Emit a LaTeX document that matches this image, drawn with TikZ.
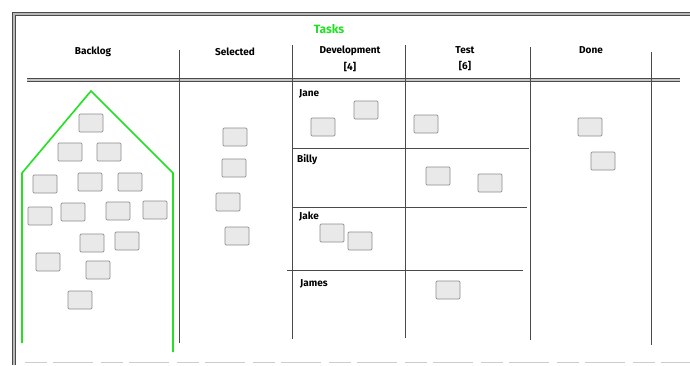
\documentclass[tikz,border=0pt]{standalone}
\usepackage{fontspec}
\setmainfont{Fira Sans}
\usetikzlibrary{calc}
\definecolor{pencil}{HTML}{4A4A4A}
\definecolor{cardfill}{HTML}{E9E9E9}
\definecolor{cardline}{HTML}{8C8C8C}
\definecolor{taskgreen}{HTML}{22E022}
\tikzset{
  card/.style={draw=cardline, fill=cardfill, line width=0.7pt, rounded corners=1.2pt,
    minimum width=24pt, minimum height=18pt, inner sep=0pt},
  head/.style={font=\fontsize{10}{11}\selectfont\bfseries, text=black, align=center, inner sep=0pt},
  lane/.style={font=\fontsize{10}{11}\selectfont\bfseries, text=black, anchor=west, inner sep=0pt},
  divider/.style={draw=pencil, line width=0.8pt},
  frameline/.style={draw=pencil, double=gray!55, double distance=2.6pt, line width=1.1pt},
  sepline/.style={draw=pencil, double=gray!45, double distance=1.4pt, line width=0.9pt},
  house/.style={draw=taskgreen, line width=1.6pt, line join=miter}
}
\begin{document}
\begin{tikzpicture}[x=1pt,y=-1pt]
\useasboundingbox (0,0) rectangle (690,365);
\fill[white] (0,0) rectangle (690,365);
% frame
\draw[frameline] (14,365) -- (14,14) -- (690,14);
\draw[draw=gray!40, line width=0.8pt, dash pattern=on 22pt off 6pt on 40pt off 8pt] (25,362) -- (690,362);
% header separator
\draw[sepline] (27,80) -- (680,80);
% column dividers
\draw[divider] (179,50) -- (179,343);
\draw[divider] (292,45) -- (292,339);
\draw[divider] (405,45) -- (405,338);
\draw[divider] (530,47) -- (530,340);
\draw[divider] (651,52) -- (651,345);
% swimlanes
\draw[divider, line width=0.7pt] (292,148) -- (529,148);
\draw[divider, line width=0.7pt] (292,207) -- (527,207);
\draw[divider, line width=0.7pt] (287,270) -- (523,270);
% title and headers
\node[font=\fontsize{12}{13}\selectfont\bfseries, text=taskgreen, inner sep=0pt] (title) at (329,29) {Tasks};
\node[head] (hBacklog) at (93,52) {Backlog};
\node[head] (hSelected) at (235,52) {Selected};
\node[head] (hDev) at (350,51) {Development};
\node[head] (hDevN) at (350,67) {[4]};
\node[head] (hTest) at (465,50) {Test};
\node[head] (hTestN) at (465,66) {[6]};
\node[head] (hDone) at (591,50) {Done};
% lane labels
\node[lane] (lJane) at (299,94) {Jane};
\node[lane] (lBilly) at (297,160) {Billy};
\node[lane] (lJake) at (299,217) {Jake};
\node[lane] (lJames) at (300,284) {James};
% green house
\draw[house] (22,343) -- (22,173) -- (91,91) -- (173,173) -- (173,352);
% backlog cards
\foreach \n/\x/\y in {b1/91/123, b2/70/152, b3/109/152, b4/45/184, b5/90/182, b6/130/182,
  b7/40/216, b8/73/212, b9/118/211, b10/155/210, b11/92/243, b12/127/241,
  b13/48/262, b14/98/270, b15/80/300}
  \node[card] (\n) at (\x,\y) {};
% selected cards
\foreach \n/\x/\y in {s1/235/137, s2/234/168, s3/228/202, s4/237/236}
  \node[card] (\n) at (\x,\y) {};
% development cards
\foreach \n/\x/\y in {d1/323/127, d2/366/110, d3/332/233, d4/360/241}
  \node[card] (\n) at (\x,\y) {};
% test cards
\foreach \n/\x/\y in {t1/426/124, t2/438/176, t3/490/183, t4/448/290}
  \node[card] (\n) at (\x,\y) {};
% done cards
\foreach \n/\x/\y in {f1/590/127, f2/603/161}
  \node[card] (\n) at (\x,\y) {};
\end{tikzpicture}
\end{document}
